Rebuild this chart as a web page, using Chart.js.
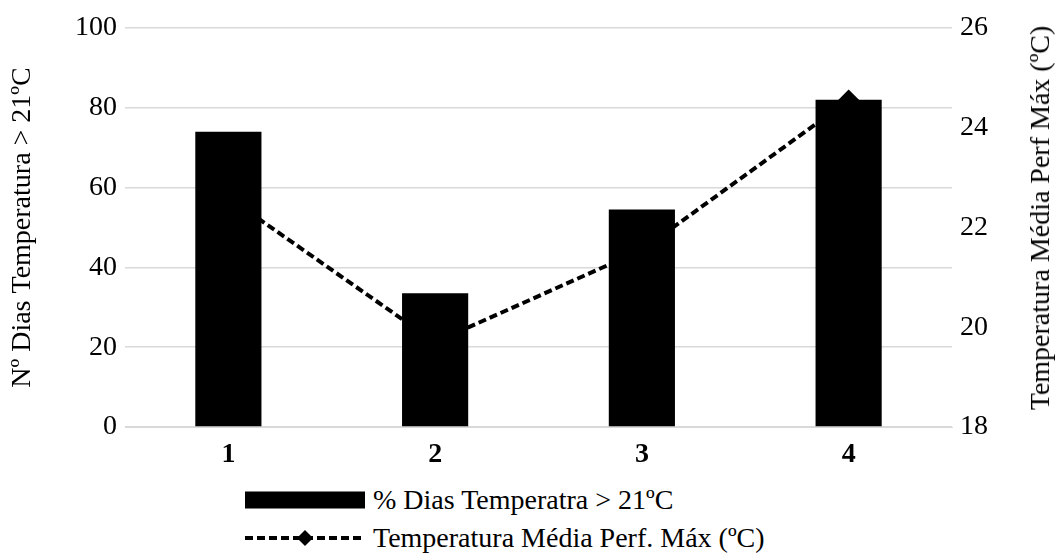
<!DOCTYPE html>
<html>
<head>
<meta charset="utf-8">
<script src="https://cdn.jsdelivr.net/npm/chart.js@4"></script>
<style>
  html, body { margin: 0; padding: 0; background: #fff; }
  #wrap { position: relative; width: 1055px; height: 554px; font-family: "Liberation Serif", "Times New Roman", serif; }
  #box { position: absolute; left: 0; top: 0; width: 1055px; height: 470px; }
  #legend { position: absolute; left: 245px; top: 481px; font-size: 28px; color: #000; }
  .item { display: flex; align-items: center; height: 38px; line-height: 1; }
  .item svg { margin-right: 8px; }
  #tituloDir {
    position: absolute; left: 1040px; top: 218px; font-size: 28px; color: #000;
    white-space: nowrap; transform: translate(-50%, -50%) rotate(-90deg);
  }
</style>
</head>
<body>
<div id="wrap">
  <div id="box"><canvas id="myChart"></canvas></div>
  <div id="tituloDir">Temperatura Média Perf Máx (ºC)</div>
  <div id="legend">
    <div class="item">
      <svg width="120" height="20"><rect x="0" y="1.5" width="120" height="17" fill="#000"/></svg>
      <span>% Dias Temperatra &gt; 21ºC</span>
    </div>
    <div class="item">
      <svg width="120" height="20">
        <line x1="0" y1="10" x2="120" y2="10" stroke="#000" stroke-width="4" stroke-dasharray="8 4"/>
        <polygon points="60,2 68,10 60,18 52,10" fill="#000"/>
      </svg>
      <span>Temperatura Média Perf. Máx (ºC)</span>
    </div>
  </div>
</div>
<script>
// categorias e valores
const categorias = ["1", "2", "3", "4"];
const diasAcima21 = [74, 33.5, 54.5, 82];
const tempMediaMax = [22.6, 19.7, 21.55, 24.55];

const fonteSerif = "'Liberation Serif', 'Times New Roman', serif";

let ctx = document.getElementById("myChart").getContext("2d");
let chart = new Chart(ctx, {
  type: "bar",
  data: {
    labels: categorias,
    datasets: [
      {
        type: "bar",
        label: "% Dias Temperatra > 21ºC",
        data: diasAcima21,
        backgroundColor: "#000",
        yAxisID: "y",
        order: 0,
        categoryPercentage: 1,
        barPercentage: 0.32
      },
      {
        type: "line",
        label: "Temperatura Média Perf. Máx (ºC)",
        data: tempMediaMax,
        borderColor: "#000",
        backgroundColor: "#000",
        borderWidth: 4,
        borderDash: [8, 4],
        pointStyle: "rectRot",
        pointRadius: 8,
        fill: false,
        tension: 0,
        yAxisID: "y1",
        order: 1
      }
    ]
  },
  options: {
    responsive: true,
    maintainAspectRatio: false,
    animation: false,
    layout: { padding: { top: 28, right: 0, left: 0, bottom: 0 } },
    plugins: {
      legend: { display: false },
      tooltip: { enabled: false }
    },
    scales: {
      x: {
        grid: { display: false },
        border: { color: "#d9d9d9" },
        ticks: { color: "#000", font: { family: fonteSerif, size: 28, weight: "bold" }, padding: 3 },
        afterFit: (scale) => { scale.height = 43; }
      },
      y: {
        position: "left",
        min: 0,
        max: 100,
        ticks: { stepSize: 20, color: "#000", font: { family: fonteSerif, size: 28 }, padding: 8 },
        grid: { color: "#d9d9d9", lineWidth: 1.5, drawTicks: false },
        border: { display: false },
        title: {
          display: true,
          text: "Nº Dias Temperatura > 21ºC",
          color: "#000",
          font: { family: fonteSerif, size: 28 },
          padding: { top: 6, bottom: 16 }
        },
        afterFit: (scale) => { scale.width = 125; }
      },
      y1: {
        position: "right",
        min: 18,
        max: 26,
        ticks: { stepSize: 2, color: "#000", font: { family: fonteSerif, size: 28 }, padding: 8 },
        grid: { display: false, drawTicks: false },
        border: { display: false },
        afterFit: (scale) => { scale.width = 103; }
      }
    }
  }
});
</script>
</body>
</html>
